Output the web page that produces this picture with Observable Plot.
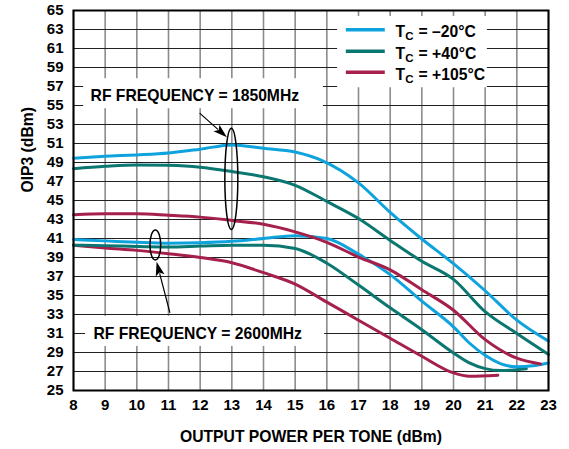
<!DOCTYPE html>
<html><head><meta charset="utf-8">
<script src="https://cdn.jsdelivr.net/npm/d3@7"></script>
<script src="https://cdn.jsdelivr.net/npm/@observablehq/plot@0.6"></script>
<style>body{margin:0;background:#fff} svg{display:block}</style>
</head><body><div id="chart"></div>
<script>
// ---- data ----
const xTicks = [8,9,10,11,12,13,14,15,16,17,18,19,20,21,22,23];
const yTicks = [25,27,29,31,33,35,37,39,41,43,45,47,49,51,53,55,57,59,61,63,65];

const x1850Blue = [8,9,10,11,12,13,14,15,15.85,17,18,19,20,21,22,23];
const y1850Blue = [49.45,49.65,49.8,50.0,50.4,50.85,50.5,50.1,49.2,46.85,43.75,40.95,38.35,35.5,32.4,30.2];
const x1850Teal = [8,9,10,11,12,13,14,15,16,17,18,19,20,21,22,23];
const y1850Teal = [48.35,48.6,48.75,48.7,48.5,48.05,47.5,46.6,44.9,43.1,40.8,38.6,36.7,33.3,31.0,28.8];
const x1850Red = [8,9,10,11,12,13,14,15,16,17,18,19,20,21,22,22.75];
const y1850Red = [43.5,43.6,43.6,43.45,43.25,42.9,42.5,41.7,40.6,39.05,37.7,35.6,33.45,30.35,28.4,27.8];

const x2600Blue = [8,9,10,11,12,13,14,15,16,17,18,19,20,20.5,21,21.5,22,22.5,23];
const y2600Blue = [40.9,40.75,40.6,40.5,40.55,40.7,41.0,41.3,41.0,39.35,37.2,34.4,31.7,30.0,28.7,27.8,27.5,27.6,27.9];
const x2600Teal = [8,9,10,11,12,13,14,15,16,17,18,19,20,20.5,21,21.5,22.3];
const y2600Teal = [40.3,40.25,40.15,40.1,40.2,40.3,40.3,39.95,38.4,36.1,33.7,31.4,28.95,27.9,27.3,27.1,27.3];
const x2600Red = [8,9,10,11,12,13,14,15,16,17,18,19,20,20.5,21.4];
const y2600Red = [40.3,40.0,39.75,39.4,39.0,38.45,37.4,36.2,34.3,32.4,30.5,28.6,26.85,26.5,26.6];

const legendLabels = ["= \u201320°C", "= +40°C", "= +105°C"];
const xTitle = "OUTPUT POWER PER TONE (dBm)";
const yTitle = "OIP3 (dBm)";
const note1850 = "RF FREQUENCY = 1850MHz";
const note2600 = "RF FREQUENCY = 2600MHz";

// ---- styles ----
const blue = "#0ea3dc", teal = "#0b7771", red = "#a5204b";
const colors = [blue, teal, red];
const font = "'Liberation Sans', Arial, Helvetica, sans-serif";
const fs = 15.7;

const toRows = (xs, ys) => xs.map((x, i) => ({x, y: ys[i]}));
const curves = [
  [toRows(x2600Red, y2600Red), red],
  [toRows(x2600Teal, y2600Teal), teal],
  [toRows(x2600Blue, y2600Blue), blue],
  [toRows(x1850Red, y1850Red), red],
  [toRows(x1850Teal, y1850Teal), teal],
  [toRows(x1850Blue, y1850Blue), blue]
];

// annotation anchors (in data units)
const boxes = [
  {x1: 8.32, x2: 15.89, y1: 57.82, y2: 54.66},
  {x1: 8.38, x2: 15.93, y1: 32.81, y2: 29.64},
  {x1: 16.34, x2: 21.07, y1: 64.37, y2: 56.87}
];
const legendY = [62.98, 60.72, 58.5];
const legendRows = legendY.map((y, i) => ({y, color: colors[i], label: legendLabels[i]}));

const ellipses = [
  {cx: 13, top: 52.55, bottom: 41.9, rx: 0.205},
  {cx: 10.6, top: 41.85, bottom: 38.69, rx: 0.17}
];
const arrows = [
  {x1: 12.0, y1: 54.15, x2: 12.86, y2: 51.6},
  {x1: 11.06, y1: 33.13, x2: 10.64, y2: 38.5}
];

function annotations(index, {x, y}) {
  const g = d3.create("svg:g");
  for (const e of ellipses) {
    const cx = x(e.cx), cy = (y(e.top) + y(e.bottom)) / 2;
    g.append("ellipse").attr("cx", cx).attr("cy", cy)
      .attr("rx", Math.abs(x(e.cx + e.rx) - cx)).attr("ry", Math.abs(y(e.bottom) - y(e.top)) / 2)
      .attr("fill", "none").attr("stroke", "black").attr("stroke-width", 1.5);
  }
  for (const a of arrows) {
    const px1 = x(a.x1), py1 = y(a.y1), px2 = x(a.x2), py2 = y(a.y2);
    const dx = px2 - px1, dy = py2 - py1, L = Math.hypot(dx, dy);
    const ux = dx / L, uy = dy / L, hl = 14, hw = 4.5;
    const bx = px2 - ux * hl, by = py2 - uy * hl;
    g.append("line").attr("x1", px1).attr("y1", py1).attr("x2", bx + ux * 2).attr("y2", by + uy * 2)
      .attr("stroke", "black").attr("stroke-width", 1.2);
    g.append("path")
      .attr("d", `M${px2},${py2}L${bx - uy * hw},${by + ux * hw}L${bx + ux * 3},${by + uy * 3}L${bx + uy * hw},${by - ux * hw}Z`)
      .attr("fill", "black");
  }
  return g.node();
}

const chart = Plot.plot({
  width: 569,
  height: 449,
  marginLeft: 73,
  marginRight: 21,
  marginTop: 10,
  marginBottom: 59,
  style: {fontFamily: font, fontWeight: "bold", fontSize: "15px", color: "black", background: "white"},
  x: {domain: [8, 23]},
  y: {domain: [25, 65]},
  marks: [
    Plot.ruleX(xTicks, {stroke: "#8c8c8c", strokeWidth: 1.6, strokeOpacity: 1}),
    Plot.ruleY(yTicks, {stroke: "#222", strokeWidth: 1.1, strokeOpacity: 1}),
    Plot.rect(boxes, {x1: "x1", x2: "x2", y1: "y1", y2: "y2", fill: "white"}),
    ...curves.map(([rows, c]) => Plot.line(rows, {x: "x", y: "y", stroke: c, strokeWidth: 3, curve: "monotone-x"})),
    Plot.frame({stroke: "black", strokeWidth: 2}),
    Plot.axisX(xTicks, {tickSize: 0, tickPadding: 9, fontSize: 15, fontWeight: "bold", label: null}),
    Plot.axisY(yTicks, {tickSize: 0, tickPadding: 10, fontSize: 15, fontWeight: "bold", label: null}),
    Plot.text([xTitle], {frameAnchor: "bottom", dy: 46, lineAnchor: "middle", fontSize: fs, fontWeight: "bold", fill: "black"}),
    Plot.text([yTitle], {frameAnchor: "left", dx: -46, dy: -8, rotate: -90, lineAnchor: "middle", fontSize: fs, fontWeight: "bold", fill: "black"}),
    Plot.text([note1850], {x: () => 8.54, y: () => 55.98, textAnchor: "start", lineAnchor: "middle", fontSize: fs, fontWeight: "bold", fill: "black"}),
    Plot.text([note2600], {x: () => 8.63, y: () => 30.91, textAnchor: "start", lineAnchor: "middle", fontSize: fs, fontWeight: "bold", fill: "black"}),
    Plot.link(legendRows, {x1: () => 16.6, x2: () => 17.83, y1: "y", y2: "y", stroke: d => d.color, strokeWidth: 3.5}),
    Plot.text(legendRows, {x: () => 18.17, y: "y", text: () => "T", textAnchor: "start", lineAnchor: "middle", dy: 2.5, fontSize: fs, fontWeight: "bold", fill: "black"}),
    Plot.text(legendRows, {x: () => 18.17, y: "y", text: () => "C", textAnchor: "start", lineAnchor: "middle", dx: 9.8, dy: 7, fontSize: 11.5, fontWeight: "bold", fill: "black"}),
    Plot.text(legendRows, {x: () => 18.17, y: "y", text: "label", textAnchor: "start", lineAnchor: "middle", dx: 23, dy: 2.5, fontSize: fs, fontWeight: "bold", fill: "black"}),
    annotations
  ]
});
document.getElementById("chart").append(chart);
</script>
</body></html>
